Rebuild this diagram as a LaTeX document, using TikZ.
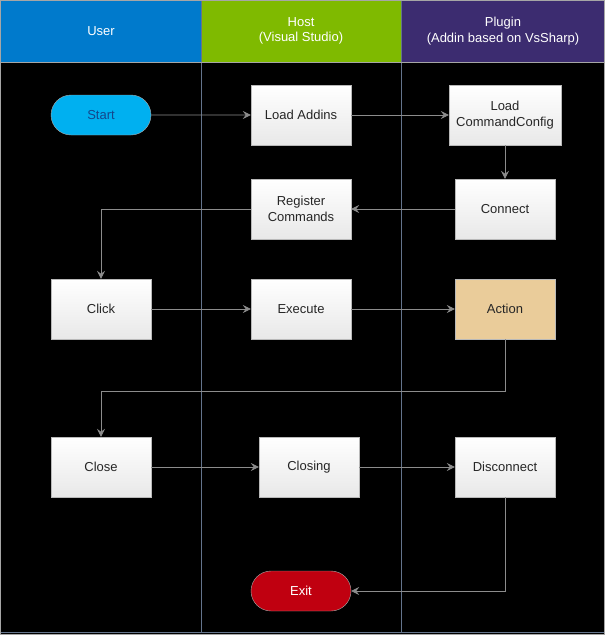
\documentclass[tikz,border=0pt]{standalone}
\usepackage{fontspec}
\setmainfont{Liberation Sans}
\usetikzlibrary{arrows.meta,shapes.misc}
\definecolor{userblue}{RGB}{0,122,204}
\definecolor{hostgreen}{RGB}{127,186,0}
\definecolor{pluginpurple}{RGB}{60,44,112}
\definecolor{lanegrey}{RGB}{100,116,140}
\definecolor{linegrey}{RGB}{140,140,140}
\definecolor{startcyan}{RGB}{0,176,240}
\definecolor{exitred}{RGB}{192,0,16}
\definecolor{actiontan}{RGB}{234,204,154}
\begin{document}
\begin{tikzpicture}[x=1pt,y=-1pt,
  txt/.style={font=\fontsize{13}{15.5}\selectfont},
  hdr/.style={txt,text=white,align=center},
  box/.style={txt,draw=gray!55,top color=white,bottom color=gray!18,minimum width=100pt,minimum height=60pt,align=center,text=black!85,inner sep=2pt},
  term/.style={txt,rounded rectangle,draw=gray!70,minimum width=104pt,minimum height=40pt,inner sep=2pt},
  conn/.style={draw=linegrey,line width=0.7pt,-{Stealth[length=8pt,width=8pt,inset=3pt]}}
]
\useasboundingbox (0,0) rectangle (605,635);
\fill[black] (0,0) rectangle (605,635);
% headers
\fill[userblue] (0,0) rectangle (201,62);
\fill[hostgreen] (201,0) rectangle (401,62);
\fill[pluginpurple] (401,0) rectangle (605,62);
\node[hdr] (hu) at (101,31) {User};
\node[hdr] (hh) at (301,31) {Host\\(Visual Studio)};
\node[hdr] (hp) at (503,31) {Plugin\\(Addin based on VsSharp)};
% lanes
\draw[lanegrey,line width=0.7pt] (201,0) -- (201,632);
\draw[lanegrey,line width=0.7pt] (401,0) -- (401,632);
\draw[gray!70,line width=0.7pt] (0,62) -- (605,62);
\draw[lanegrey,line width=0.7pt] (0,632) -- (605,632);
\draw[gray!70,line width=1pt] (0.5,0.5) rectangle (604.5,634.5);
% nodes
\node[term,fill=startcyan,text={rgb,255:red,20;green,70;blue,140}] (start) at (101,115) {Start};
\node[box] (load) at (301,115) {Load Addins};
\node[box,minimum width=112pt] (cfg) at (505,115) {Load\\CommandConfig};
\node[box] (reg) at (301,209) {Register\\Commands};
\node[box] (con) at (505,209) {Connect};
\node[box] (click) at (101,309) {Click};
\node[box] (exec) at (301,309) {Execute};
\node[box,fill=actiontan,top color=actiontan,bottom color=actiontan] (act) at (505,309) {Action};
\node[box] (close) at (101,467) {Close};
\node[box] (closing) at (309,467) {Closing};
\node[box] (disc) at (505,467) {Disconnect};
\node[term,fill=exitred,text=white] (exit) at (301,591) {Exit};
% connectors
\draw[conn] (start) -- (load);
\draw[conn] (load) -- (cfg);
\draw[conn] (cfg) -- (con);
\draw[conn] (con) -- (reg);
\draw[conn] (reg.west) -| (click.north);
\draw[conn] (click) -- (exec);
\draw[conn] (exec) -- (act);
\coordinate (bend) at (505,391);
\draw[conn] (act.south) -- (bend) -| (close.north);
\draw[conn] (close) -- (closing);
\draw[conn] (closing) -- (disc);
\draw[conn] (disc.south) |- (exit.east);
\end{tikzpicture}
\end{document}
